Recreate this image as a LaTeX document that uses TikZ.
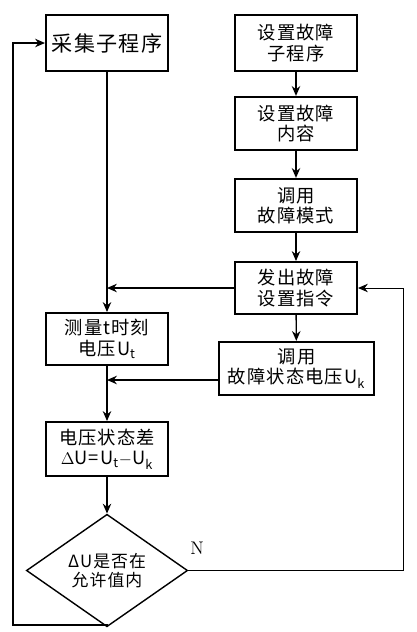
\documentclass[tikz,border=0pt]{standalone}
\usepackage{fontspec}
\newfontfamily\cjk[LetterSpace=6]{Noto Sans CJK SC}
\usetikzlibrary{shapes.geometric,arrows.meta}
\begin{document}
\begin{tikzpicture}[x=0.025cm, y=-0.025cm,
                        kasten/.style={draw, line width=1.4pt, minimum width=3.05cm, align=center, inner sep=1pt, font=\cjk\fontsize{13}{14.5}\selectfont},
                        raute/.style={draw, line width=1pt, shape=diamond, minimum width=4.03cm, minimum height=2.03cm, inner sep=0pt, align=center, font=\cjk\fontsize{12}{13.5}\selectfont},
                        pfeil/.style={-{Stealth[length=7pt,width=6pt]}, line width=1pt},
                        ]
                        \useasboundingbox (0,0) rectangle (416,632);
                        %Kaesten rechts
                        \node [kasten, minimum height=1.4cm] (sz1) at (296,43) {设置故障\\子程序};
                        \node [kasten, minimum height=1.33cm] (sz2) at (296,123.5) {设置故障\\内容};
                        \node [kasten, minimum height=1.33cm] (sz3) at (296,205.5) {调用\\故障模式};
                        \node [kasten, minimum height=1.3cm] (fachu) at (296,288) {发出故障\\设置指令};
                        \node [kasten, minimum height=1.33cm, minimum width=3.88cm] (diaoyong) at (296.5,368.5) {调用\\故障状态电压U\textsubscript{k}};
                        %Kaesten links
                        \node [kasten, minimum height=1.4cm, font=\cjk\fontsize{15}{16}\selectfont] (caiji) at (107,43) {采集子程序};
                        \node [kasten, minimum height=1.3cm] (celiang) at (107,339) {测量t时刻\\电压U\textsubscript{t}};
                        \node [kasten, minimum height=1.35cm] (chazhi) at (107,449) {电压状态差\\$\Delta$U=U\textsubscript{t}$-$U\textsubscript{k}};
                        \node [raute] (panduan) at (107,570.5) {ΔU是否在\\允许值内};
                        \node (nein) at (197,548) {\fontsize{13}{14}\selectfont N};
                        %Hilfspunkte
                        \coordinate (j1) at (107,380);
                        \coordinate (rr) at (403,570.5);
                        \coordinate (lb) at (13,625);
                        %Pfeile
                        \draw [pfeil] (sz1) -- (sz2);
                        \draw [pfeil] (sz2) -- (sz3);
                        \draw [pfeil] (sz3) -- (fachu);
                        \draw [pfeil] (fachu) -- (diaoyong);
                        \draw [pfeil] (caiji) -- (celiang);
                        \draw [pfeil] (fachu.west) -- (fachu.west -| caiji.south);
                        \draw [pfeil] (celiang) -- (chazhi);
                        \draw [pfeil, line width=1.4pt] (diaoyong.west |- j1) -- (j1);
                        \draw [pfeil] (chazhi) -- (panduan);
                        \draw [pfeil, line width=0.7pt] (panduan.east) -- (rr) |- (fachu.east);
                        \draw [pfeil, line width=1.4pt] (panduan.south) |- (lb) |- (caiji.west);
                \end{tikzpicture}
\end{document}
